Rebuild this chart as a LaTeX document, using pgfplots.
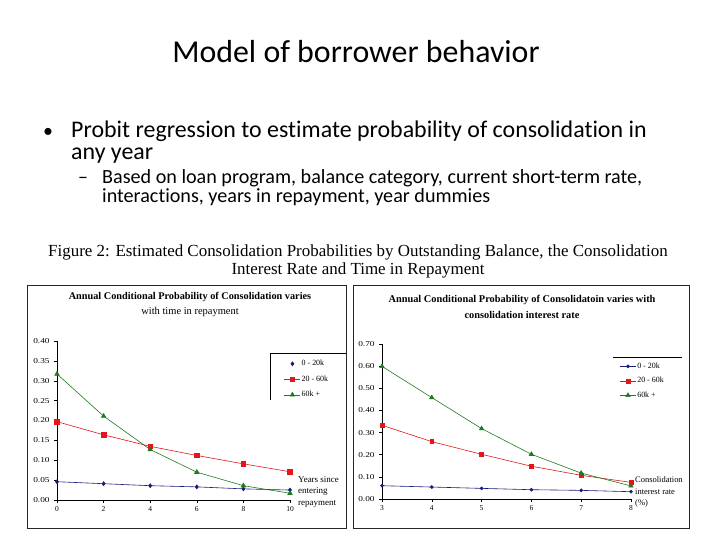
\documentclass[border=0pt]{standalone}
\usepackage{pgfplots}
\pgfplotsset{compat=1.18}
\usepackage{fontspec}
\setmainfont{Carlito}[Ligatures=NoCommon]
\newfontfamily\tms{Liberation Serif}
\definecolor{navy}{RGB}{25,25,120}
\definecolor{xred}{RGB}{228,22,28}
\definecolor{xgreen}{RGB}{30,122,30}
\pgfplotsset{
 exstyle/.style={
  scale only axis, axis lines=left, axis line style={-, black, line width=0.5pt},
  tick align=outside, major tick length=3bp, tick style={black, line width=0.5pt},
  tick label style={font=\tms\fontsize{7.5}{8}\selectfont},
  yticklabel style={xscale=1.25},
  /pgf/number format/assume math mode=true,
  yticklabel style={/pgf/number format/fixed,/pgf/number format/fixed zerofill,/pgf/number format/precision=2},
  legend style={draw=none, fill=none, font=\tms\fontsize{8}{9}\selectfont, inner sep=0pt, outer sep=0pt,
    nodes={inner sep=1pt}},
  legend cell align=left,
  legend image code/.code={\draw[mark repeat=2,mark phase=2,#1] plot coordinates {(0cm,0cm)(0.28cm,0cm)(0.56cm,0cm)};},
  every axis plot/.append style={line width=0.6pt},
  clip=false,
 }
}
\begin{document}
\begin{tikzpicture}
\useasboundingbox (0,0) rectangle (720bp,540bp);
% slide text
\node[anchor=base,font=\fontsize{32}{36}\selectfont,inner sep=0pt] at (356bp,477bp) {Model of borrower behavior};
\node[anchor=base west,font=\fontsize{20}{24}\selectfont,inner sep=0pt] at (43bp,402bp) {•};
\node[anchor=base west,font=\fontsize{24}{28}\selectfont,inner sep=0pt] at (71bp,402bp) {Probit regression to estimate probability of consolidation in};
\node[anchor=base west,font=\fontsize{24}{28}\selectfont,inner sep=0pt] at (71bp,380bp) {any year};
\node[anchor=base west,font=\fontsize{20}{24}\selectfont,inner sep=0pt] at (78bp,356bp) {–};
\node[anchor=base west,font=\fontsize{20.2}{24}\selectfont,inner sep=0pt] at (102bp,356bp) {Based on loan program, balance category, current short-term rate,};
\node[anchor=base west,font=\fontsize{20.2}{24}\selectfont,inner sep=0pt] at (102bp,337bp) {interactions, years in repayment, year dummies};
% caption
\node[anchor=base,font=\tms\fontsize{17}{20}\selectfont,inner sep=0pt] at (358bp,283bp) {Figure 2: Estimated Consolidation Probabilities by Outstanding Balance, the Consolidation};
\node[anchor=base,font=\tms\fontsize{17}{20}\selectfont,inner sep=0pt] at (358bp,265bp) {Interest Rate and Time in Repayment};
% frames
\draw[line width=0.7pt,black!85] (27bp,12bp) rectangle (346bp,255bp);
\draw[line width=0.7pt,black!85] (353bp,12bp) rectangle (689bp,255bp);
% chart titles
\node[font=\tms\bfseries\fontsize{10.3}{12}\selectfont] at (190bp,243bp) {Annual Conditional Probability of Consolidation varies};
\node[font=\tms\fontsize{10.5}{12}\selectfont] at (190bp,228bp) {with time in repayment};
\node[font=\tms\bfseries\fontsize{10.4}{12}\selectfont] at (522bp,240bp) {Annual Conditional Probability of Consolidatoin varies with};
\node[font=\tms\bfseries\fontsize{10.4}{12}\selectfont] at (522bp,225bp) {consolidation interest rate};
% left chart
\begin{axis}[exstyle, at={(57bp,40bp)}, anchor=south west, width=233bp, height=159bp,
  xmin=0, xmax=10, ymin=0, ymax=0.40,
  xtick={0,2,4,6,8,10}, ytick={0,0.05,0.10,0.15,0.20,0.25,0.30,0.35,0.40},
  legend style={at={(0.975,0.885)}, anchor=north west, row sep=6.5bp}]
\addplot[navy, mark=diamond*, mark size=2pt,
  legend image code/.code={\draw[##1] plot coordinates {(0.28cm,0cm)};}]
  coordinates {(0,0.046)(2,0.041)(4,0.036)(6,0.033)(8,0.028)(10,0.025)};
\addlegendentry{0 - 20k}
\addplot[xred, mark=square*, mark size=2.3pt] coordinates {(0,0.197)(2,0.164)(4,0.135)(6,0.112)(8,0.091)(10,0.071)};
\addlegendentry{20 - 60k}
\addplot[xgreen, mark=triangle*, mark size=2.6pt] coordinates {(0,0.317)(2,0.211)(4,0.127)(6,0.070)(8,0.036)(10,0.017)};
\addlegendentry{60k +}
\end{axis}
\draw[line width=0.6pt] (270bp,140bp) -- (270bp,187bp) -- (346bp,187bp);
\node[anchor=west,align=left,font=\tms\fontsize{9}{11.5}\selectfont,inner sep=0pt] at (298bp,48bp) {Years since\\entering\\repayment};
% right chart
\begin{axis}[exstyle, at={(382bp,41bp)}, anchor=south west, width=249bp, height=155bp,
  xmin=3, xmax=8, ymin=0, ymax=0.70,
  xtick={3,4,5,6,7,8}, ytick={0,0.10,0.20,0.30,0.40,0.50,0.60,0.70},
  legend style={at={(0.955,0.885)}, anchor=north west, row sep=5.5bp}]
\addplot[navy, mark=*, mark size=1.5pt] coordinates {(3,0.060)(4,0.054)(5,0.048)(6,0.042)(7,0.039)(8,0.033)};
\addlegendentry{0 - 20k}
\addplot[xred, mark=square*, mark size=2pt] coordinates {(3,0.333)(4,0.259)(5,0.202)(6,0.148)(7,0.107)(8,0.075)};
\addlegendentry{20 - 60k}
\addplot[xgreen, mark=triangle*, mark size=2.5pt] coordinates {(3,0.599)(4,0.458)(5,0.318)(6,0.202)(7,0.117)(8,0.059)};
\addlegendentry{60k +}
\end{axis}
\draw[line width=0.6pt] (613bp,183bp) -- (682bp,183bp);
\node[anchor=west,align=left,font=\tms\fontsize{8.5}{12}\selectfont,inner sep=0pt] at (635bp,48bp) {Consolidation\\interest rate\\(\%)};
\end{tikzpicture}
\end{document}
